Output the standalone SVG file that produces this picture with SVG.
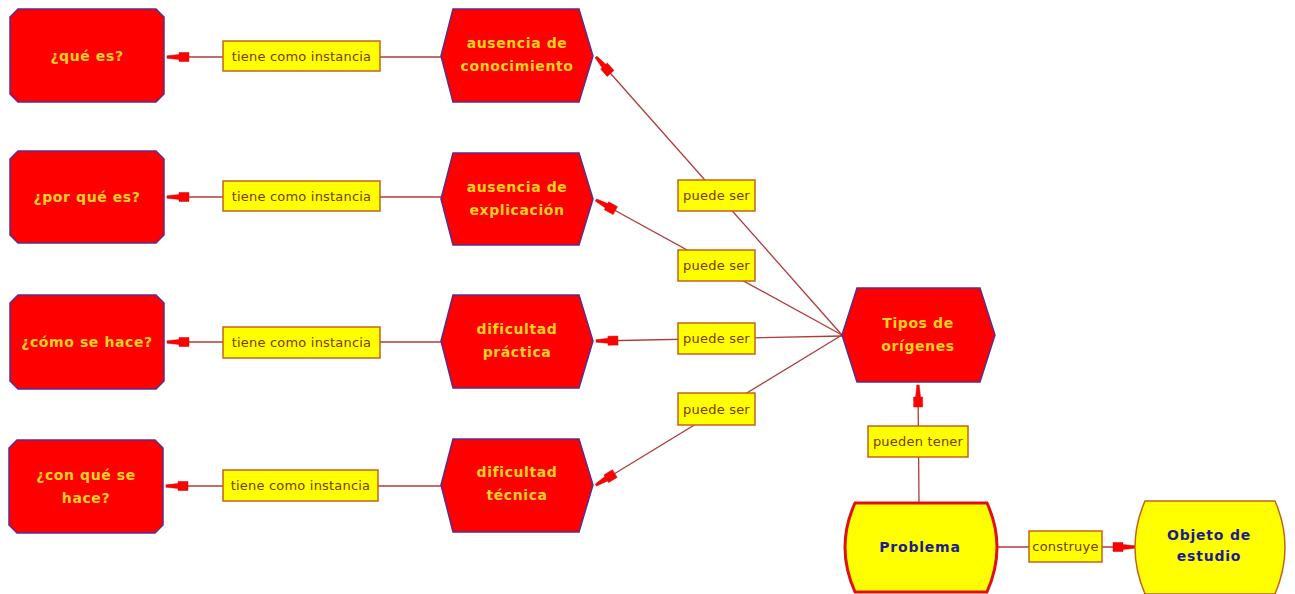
<svg xmlns="http://www.w3.org/2000/svg" width="1295" height="594" viewBox="0 0 1295 594">
<style>
.rn{fill:#FF0000;stroke:#5B2C8F;stroke-width:1.5}
.nt{font-family:"DejaVu Sans",sans-serif;font-weight:bold;font-size:14px;letter-spacing:0.6px;fill:#FFD21F;text-anchor:middle}
.yt{font-family:"DejaVu Sans",sans-serif;font-weight:bold;font-size:14px;letter-spacing:0.8px;fill:#1C1C8C;text-anchor:middle}
.lb{fill:#FFFF00;stroke:#C0641E;stroke-width:1.5}
.lt{font-family:"DejaVu Sans",sans-serif;font-size:13px;letter-spacing:0.2px;fill:#7A3A00;text-anchor:middle}
.cn{fill:none;stroke:#B03A3A;stroke-width:1.3}
</style>
<defs>
<marker id="arr" viewBox="-24 -6 26 12" refX="0" refY="0" markerWidth="26" markerHeight="12" orient="auto" markerUnits="userSpaceOnUse">
<path d="M0,-1.2 L-12,-2.5 L-12,-4.5 L-22,-4.5 L-22,4.5 L-12,4.5 L-12,2.5 L0,1.2Z" fill="#FF0000" stroke="#C81010" stroke-width="0.5"/>
</marker>
</defs>

<g id="connectors">
<path class="cn" d="M441,57 L167,57" marker-end="url(#arr)"/>
<path class="cn" d="M441,197 L167,197" marker-end="url(#arr)"/>
<path class="cn" d="M441,342 L167,342" marker-end="url(#arr)"/>
<path class="cn" d="M441,486 L166,486" marker-end="url(#arr)"/>
<path class="cn" d="M842,335 L596,57" marker-end="url(#arr)"/>
<path class="cn" d="M842,335 L596,200" marker-end="url(#arr)"/>
<path class="cn" d="M842,336 L596,341" marker-end="url(#arr)"/>
<path class="cn" d="M842,335 L596,485" marker-end="url(#arr)"/>
<path class="cn" d="M919,503 L918,385" marker-end="url(#arr)"/>
<path class="cn" d="M997,547 L1135,547" marker-end="url(#arr)"/>
</g>

<g id="n-que-es">
<polygon class="rn" points="18,9 156,9 164,17 164,94 156,102 18,102 10,94 10,17"/>
<text class="nt" x="87" y="61">¿qué es?</text>
</g>
<g id="n-por-que-es">
<polygon class="rn" points="18,151 156,151 164,159 164,235 156,243 18,243 10,235 10,159"/>
<text class="nt" x="87" y="202">¿por qué es?</text>
</g>
<g id="n-como-se-hace">
<polygon class="rn" points="18,295 156,295 164,303 164,381 156,389 18,389 10,381 10,303"/>
<text class="nt" x="87" y="347">¿cómo se hace?</text>
</g>
<g id="n-con-que-se-hace">
<polygon class="rn" points="17,440 155,440 163,448 163,525 155,533 17,533 9,525 9,448"/>
<text class="nt" x="86" y="480">¿con qué se</text>
<text class="nt" x="86" y="503">hace?</text>
</g>

<g id="n-ausencia-conocimiento">
<polygon class="rn" points="441,56 453,9 579,9 593,56 579,102 453,102"/>
<text class="nt" x="517" y="48">ausencia de</text>
<text class="nt" x="517" y="71">conocimiento</text>
</g>
<g id="n-ausencia-explicacion">
<polygon class="rn" points="441,199 453,153 579,153 593,199 579,245 453,245"/>
<text class="nt" x="517" y="192">ausencia de</text>
<text class="nt" x="517" y="215">explicación</text>
</g>
<g id="n-dificultad-practica">
<polygon class="rn" points="441,341 453,295 579,295 593,341 579,388 453,388"/>
<text class="nt" x="517" y="334">dificultad</text>
<text class="nt" x="517" y="357">práctica</text>
</g>
<g id="n-dificultad-tecnica">
<polygon class="rn" points="441,485 453,439 579,439 593,485 579,532 453,532"/>
<text class="nt" x="517" y="477">dificultad</text>
<text class="nt" x="517" y="500">técnica</text>
</g>

<g id="n-tipos-origenes">
<polygon class="rn" points="842,335 857,288 980,288 995,335 980,382 857,382"/>
<text class="nt" x="918" y="328">Tipos de</text>
<text class="nt" x="918" y="351">orígenes</text>
</g>

<g id="n-problema">
<path d="M855,503 L987,503 Q1007,547 987,592 L855,592 Q835,547 855,503 Z" fill="#FFFF00" stroke="#E01010" stroke-width="3"/>
<text class="yt" x="920" y="552">Problema</text>
</g>
<g id="n-objeto-estudio">
<path d="M1145,501 L1275,501 Q1295,547 1275,594 L1145,594 Q1125,547 1145,501 Z" fill="#FFFF00" stroke="#C0641E" stroke-width="1.5"/>
<text class="yt" x="1209" y="540">Objeto de</text>
<text class="yt" x="1209" y="561">estudio</text>
</g>

<g id="labels">
<rect class="lb" x="223" y="41" width="157" height="30"/>
<text class="lt" x="301.5" y="60.5">tiene como instancia</text>
<rect class="lb" x="223" y="181" width="157" height="30"/>
<text class="lt" x="301.5" y="200.5">tiene como instancia</text>
<rect class="lb" x="223" y="327" width="157" height="31"/>
<text class="lt" x="301.5" y="347">tiene como instancia</text>
<rect class="lb" x="223" y="470" width="155" height="31"/>
<text class="lt" x="300.5" y="490">tiene como instancia</text>
<rect class="lb" x="678" y="180" width="77" height="31"/>
<text class="lt" x="716.5" y="200">puede ser</text>
<rect class="lb" x="678" y="250" width="77" height="31"/>
<text class="lt" x="716.5" y="270">puede ser</text>
<rect class="lb" x="678" y="323" width="77" height="31"/>
<text class="lt" x="716.5" y="343">puede ser</text>
<rect class="lb" x="678" y="393" width="77" height="32"/>
<text class="lt" x="716.5" y="413.5">puede ser</text>
<rect class="lb" x="868" y="426" width="100" height="31"/>
<text class="lt" x="918" y="446">pueden tener</text>
<rect class="lb" x="1029" y="531" width="73" height="31"/>
<text class="lt" x="1065.5" y="551">construye</text>
</g>
</svg>
